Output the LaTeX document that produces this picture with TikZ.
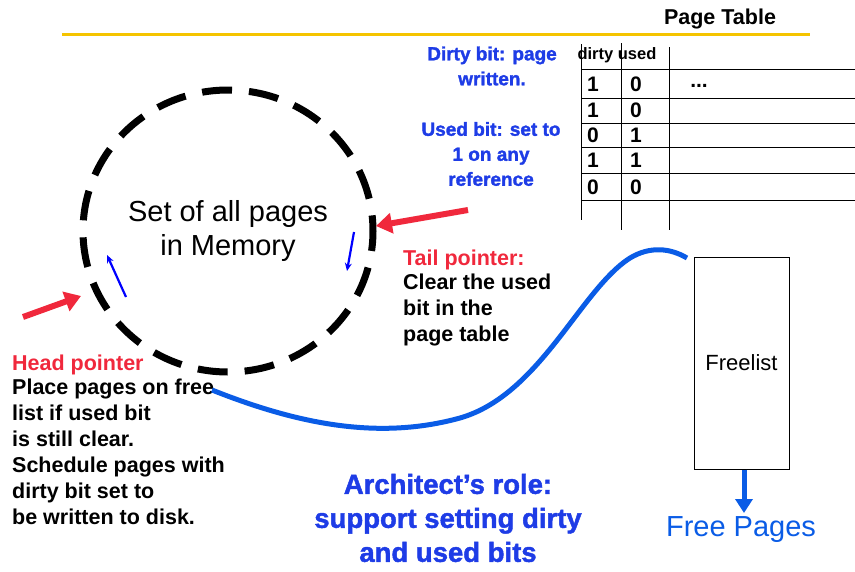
\documentclass[tikz,border=0pt]{standalone}
\usepackage{fontspec}
\setmainfont{Liberation Sans}
\newfontfamily\comicfont{Liberation Sans}[BoldFeatures={FakeBold=1.6}]
\usetikzlibrary{arrows.meta}
\definecolor{hdred}{RGB}{240,40,60}
\definecolor{ttblue}{RGB}{30,60,230}
\definecolor{curveblue}{RGB}{10,92,230}
\definecolor{rulegold}{RGB}{245,196,0}
\tikzset{
  plain/.style={font=\fontsize{21.5}{26}\selectfont\bfseries, anchor=west, align=left, inner sep=0pt},
  redlbl/.style={plain, text=hdred},
  comic/.style={font=\comicfont\fontsize{19}{25}\selectfont\bfseries, text=ttblue, align=center, inner sep=0pt},
  digit/.style={font=\fontsize{21}{24}\selectfont\bfseries, inner sep=0pt},
  tline/.style={line width=1pt, black},
  redarrow/.style={hdred, line width=6pt, -{Triangle[length=16pt,width=20pt]}},
  smallarrow/.style={blue, line width=2.2pt, -{Stealth[length=8pt,width=7pt]}},
}
\begin{document}
\begin{tikzpicture}[x=1pt,y=-1pt]
\useasboundingbox (0,0) rectangle (855,571);

% title and rule
\node[font=\fontsize{21.5}{24}\selectfont\bfseries, inner sep=0pt] (title) at (720,19) {Page Table};
\draw[rulegold, line width=3pt] (62,34) -- (810,34);

% page table grid
\foreach \yy in {69,98,123,147,173,200}
  \draw[tline] (581,\yy) -- (855,\yy);
\draw[tline] (581,44) -- (581,220);
\draw[tline] (621,43) -- (621,230);
\draw[tline] (669,47) -- (669,230);
\node[font=\fontsize{16.5}{18}\selectfont\bfseries, inner sep=0pt] (hdr) at (617,55) {dirty used};
\foreach \d/\u/\yy [count=\i] in {1/0/84,1/0/110,0/1/135,1/1/160,0/0/187}{
  \node[digit] (d\i) at (593,\yy) {\d};
  \node[digit] (u\i) at (636,\yy) {\u};
}
\node[digit] (dots) at (699,86) {...};

% notes on the bits
\node[comic] (dirtynote) at (492,66) {Dirty bit: page\\written.};
\node[comic] (usednote) at (491,154) {Used bit: set to\\1 on any\\reference};

% set of pages in memory
\draw[line width=7pt, dash pattern=on 30pt off 17pt, dash phase=10pt] (228,231) ellipse [x radius=145, y radius=141];
\node[font=\fontsize{29}{34}\selectfont, align=center, inner sep=0pt] (mem) at (228,231) {Set of all pages\\in Memory};
\coordinate (hs) at (126,297);
\coordinate (he) at (107,255);
\coordinate (ts) at (354,232);
\coordinate (te) at (347,271);
\draw[smallarrow] (hs) -- (he);
\draw[smallarrow] (ts) -- (te);

% pointers
\coordinate (tailfrom) at (468,210);
\coordinate (tailto) at (376,226);
\coordinate (headfrom) at (23,317);
\coordinate (headto) at (81,296);
\draw[redarrow] (tailfrom) -- (tailto);
\draw[redarrow] (headfrom) -- (headto);

\node[redlbl] (taillbl) at (403,260) {Tail pointer:};
\node[plain, anchor=north west] (taildesc) at (403,274) {Clear the used\\bit in the\\page table};

\node[redlbl] (headlbl) at (12,365) {Head pointer};
\node[plain, anchor=north west] (headdesc) at (12,379) {Place pages on free\\list if used bit\\is still clear.\\Schedule pages with\\dirty bit set to\\be written to disk.};

% freelist
\node[draw, line width=1pt, minimum width=95pt, minimum height=212pt, inner sep=0pt, font=\fontsize{22}{24}\selectfont] (free) at (741.5,363) {Freelist};
\coordinate (cstart) at (212,390);
\draw[curveblue, line width=5pt] (cstart)
  .. controls (300,425) and (380,440) .. (460,418)
  .. controls (540,395) and (580,290) .. (630,258)
  .. controls (650,246) and (670,248) .. (687,258);
\node[font=\fontsize{29}{32}\selectfont, text=curveblue, inner sep=0pt] (freepages) at (741,530) {Free Pages};
\draw[curveblue, line width=5pt, -{Triangle[length=14pt,width=17pt]}] (free.south -| 744,0) -- (744,513);

% architect note
\node[comic, font=\comicfont\fontsize{27.5}{34}\selectfont\bfseries] (arch) at (448,518) {Architect’s role:\\support setting dirty\\and used bits};
\end{tikzpicture}
\end{document}
